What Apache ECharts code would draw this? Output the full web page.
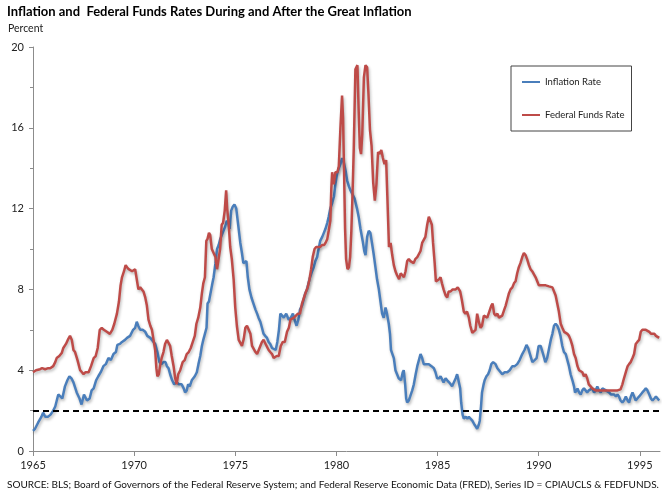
<!DOCTYPE html>
<html><head><meta charset="utf-8">
<script src="https://cdn.jsdelivr.net/npm/echarts@6/dist/echarts.min.js"></script>
<style>html,body{margin:0;padding:0;background:#fff}#c{width:672px;height:497px}</style>
</head><body><div id="c"></div>
<script>
const titleText = 'Inflation and  Federal Funds Rates During and After the Great Inflation';
const unitText = 'Percent';
const sourceText = 'SOURCE: BLS; Board of Governors of the Federal Reserve System; and Federal Reserve Economic Data (FRED), Series ID = CPIAUCLS & FEDFUNDS.';
const xTicks = [1965, 1970, 1975, 1980, 1985, 1990, 1995];
const targetLevel = 2;

// [year, percent]
const inflationRate = [
[1965.00,1.0],[1965.10,1.1],[1965.25,1.4],[1965.42,1.7],[1965.50,1.9],[1965.60,1.7],[1965.75,1.7],[1965.87,1.8],
[1966.00,2.0],[1966.10,2.2],[1966.25,2.8],[1966.35,2.7],[1966.45,2.6],[1966.58,3.2],[1966.70,3.5],[1966.80,3.7],[1966.90,3.6],
[1967.00,3.4],[1967.16,2.9],[1967.30,2.6],[1967.40,2.3],[1967.52,2.8],[1967.67,2.5],[1967.80,2.6],[1967.90,3.0],
[1968.00,3.1],[1968.12,3.5],[1968.23,3.7],[1968.35,3.9],[1968.48,4.2],[1968.60,4.3],[1968.73,4.6],[1968.85,4.5],[1968.98,4.8],
[1969.10,4.9],[1969.17,5.25],[1969.30,5.3],[1969.40,5.4],[1969.55,5.5],[1969.65,5.6],[1969.80,5.7],[1969.95,6.0],
[1970.05,6.1],[1970.13,6.4],[1970.20,6.2],[1970.30,6.0],[1970.42,6.0],[1970.55,5.9],[1970.65,5.7],[1970.71,5.7],[1970.80,5.6],[1970.88,5.6],
[1971.04,5.3],[1971.15,4.9],[1971.25,4.4],[1971.35,4.3],[1971.45,4.4],[1971.55,4.4],[1971.62,4.2],[1971.70,4.1],[1971.78,3.8],[1971.88,3.5],[1971.98,3.3],
[1972.10,3.4],[1972.22,3.3],[1972.35,3.3],[1972.45,3.1],[1972.52,2.9],[1972.60,3.0],[1972.67,3.3],[1972.75,3.2],[1972.85,3.5],
[1973.00,3.7],[1973.10,3.9],[1973.18,4.3],[1973.27,4.7],[1973.35,5.2],[1973.42,5.5],[1973.50,5.8],[1973.58,6.1],[1973.63,7.3],[1973.70,7.4],[1973.76,7.4],[1973.85,8.2],[1973.93,8.6],
[1974.02,9.3],[1974.10,10.0],[1974.18,10.2],[1974.26,10.5],[1974.34,10.7],[1974.42,10.9],[1974.50,11.1],[1974.58,11.4],[1974.65,11.3],[1974.72,11.0],[1974.80,11.9],[1974.88,12.1],[1974.96,12.2],
[1975.05,12.0],[1975.12,11.4],[1975.25,10.3],[1975.33,9.8],[1975.40,9.3],[1975.48,9.3],[1975.55,9.4],[1975.62,8.6],[1975.70,8.0],[1975.80,7.6],[1975.90,7.3],
[1976.00,7.0],[1976.08,6.8],[1976.15,6.6],[1976.24,6.4],[1976.32,6.1],[1976.40,5.8],[1976.48,5.7],[1976.57,5.6],[1976.65,5.4],[1976.73,5.3],[1976.82,5.1],[1976.90,5.1],
[1977.00,5.0],[1977.08,5.4],[1977.16,6.0],[1977.23,6.8],[1977.32,6.7],[1977.40,6.6],[1977.52,6.8],[1977.64,6.5],[1977.75,6.6],[1977.85,6.8],[1977.93,6.5],
[1978.03,6.2],[1978.12,6.5],[1978.20,7.0],[1978.30,7.2],[1978.38,7.5],[1978.46,7.8],[1978.55,8.0],[1978.62,8.3],[1978.70,8.6],[1978.80,8.9],[1978.88,9.1],[1978.96,9.4],
[1979.05,9.6],[1979.12,10.0],[1979.20,10.4],[1979.30,10.6],[1979.38,10.8],[1979.46,11.0],[1979.55,11.3],[1979.62,11.6],[1979.70,12.0],[1979.80,12.3],[1979.88,12.6],[1979.95,13.2],
[1980.03,13.7],[1980.12,14.0],[1980.20,14.2],[1980.28,14.5],[1980.36,14.3],[1980.45,13.9],[1980.53,13.4],[1980.62,13.1],[1980.70,12.9],[1980.80,12.7],[1980.90,12.5],
[1981.02,12.0],[1981.10,11.6],[1981.19,11.0],[1981.30,10.4],[1981.38,9.9],[1981.44,9.7],[1981.52,10.6],[1981.60,10.9],[1981.68,10.8],[1981.76,10.3],[1981.85,9.7],[1981.93,9.1],
[1982.01,8.5],[1982.10,8.0],[1982.18,7.4],[1982.26,6.8],[1982.34,6.6],[1982.43,7.1],[1982.50,6.8],[1982.59,6.3],[1982.65,5.8],[1982.70,5.0],[1982.77,4.8],[1982.84,4.6],[1982.92,4.0],
[1983.00,3.8],[1983.08,3.6],[1983.20,3.5],[1983.28,3.9],[1983.33,4.0],[1983.40,3.3],[1983.45,2.6],[1983.50,2.4],[1983.58,2.5],[1983.65,2.7],[1983.75,3.0],[1983.83,3.3],[1983.92,3.8],
[1984.00,4.2],[1984.08,4.5],[1984.16,4.8],[1984.24,4.6],[1984.32,4.3],[1984.45,4.3],[1984.57,4.3],[1984.70,4.2],[1984.82,4.1],[1984.90,3.9],[1984.98,3.6],
[1985.08,3.6],[1985.15,3.7],[1985.30,3.4],[1985.40,3.6],[1985.48,3.5],[1985.57,3.4],[1985.65,3.3],[1985.72,3.2],[1985.80,3.2],[1985.90,3.6],[1985.97,3.8],
[1986.05,3.8],[1986.12,3.1],[1986.17,2.4],[1986.24,1.8],[1986.30,1.6],[1986.40,1.7],[1986.48,1.6],[1986.55,1.7],[1986.63,1.6],[1986.72,1.5],[1986.83,1.3],[1986.90,1.2],[1986.96,1.1],
[1987.04,1.3],[1987.09,1.5],[1987.15,2.2],[1987.20,2.9],[1987.28,3.3],[1987.33,3.5],[1987.42,3.7],[1987.50,3.8],[1987.58,4.0],[1987.66,4.3],[1987.75,4.4],[1987.87,4.3],[1987.96,4.1],
[1988.04,4.0],[1988.12,3.9],[1988.20,3.8],[1988.32,3.9],[1988.45,3.9],[1988.57,4.0],[1988.70,4.2],[1988.82,4.2],[1988.94,4.3],
[1989.06,4.5],[1989.19,4.8],[1989.30,5.0],[1989.40,5.25],[1989.48,5.1],[1989.57,4.8],[1989.69,4.4],[1989.80,4.5],[1989.90,4.6],
[1990.00,5.2],[1990.10,5.2],[1990.17,5.2],[1990.25,4.7],[1990.33,4.4],[1990.42,4.6],[1990.50,5.0],[1990.60,5.5],[1990.68,5.8],[1990.76,6.2],[1990.84,6.3],[1990.92,6.2],
[1991.00,6.0],[1991.08,5.7],[1991.17,5.2],[1991.25,4.9],[1991.34,4.8],[1991.42,4.5],[1991.50,4.2],[1991.58,3.8],[1991.67,3.5],[1991.75,3.2],[1991.80,2.9],[1991.88,3.0],[1991.92,3.1],
[1992.00,2.9],[1992.08,2.8],[1992.16,3.0],[1992.24,3.1],[1992.32,3.0],[1992.40,2.9],[1992.48,3.0],[1992.57,3.0],[1992.65,3.1],[1992.74,2.9],[1992.82,3.0],[1992.90,3.2],[1992.98,3.0],
[1993.07,2.9],[1993.15,3.1],[1993.24,3.1],[1993.32,3.0],[1993.40,3.0],[1993.48,2.9],[1993.57,2.8],[1993.65,2.8],[1993.72,2.8],[1993.82,2.7],[1993.90,2.8],[1993.97,2.7],
[1994.05,2.5],[1994.14,2.4],[1994.22,2.5],[1994.31,2.7],[1994.40,2.5],[1994.47,2.4],[1994.56,2.7],[1994.64,2.9],[1994.72,2.7],[1994.80,2.5],[1994.88,2.6],[1994.97,2.7],
[1995.05,2.8],[1995.13,2.9],[1995.22,3.0],[1995.30,3.1],[1995.38,3.0],[1995.47,2.8],[1995.55,2.6],[1995.63,2.5],[1995.72,2.6],[1995.80,2.7],[1995.88,2.6],[1995.96,2.5]
];

const fedFundsRate = [
[1965.00,3.9],[1965.15,4.0],[1965.35,4.05],[1965.45,4.1],[1965.60,4.05],[1965.75,4.1],[1965.85,4.1],
[1966.00,4.2],[1966.10,4.4],[1966.17,4.6],[1966.30,4.7],[1966.42,4.85],[1966.50,5.1],[1966.63,5.3],[1966.72,5.5],[1966.83,5.7],[1966.92,5.5],
[1967.00,5.0],[1967.08,4.9],[1967.20,4.5],[1967.33,4.0],[1967.42,3.9],[1967.50,3.8],[1967.60,3.9],[1967.75,3.9],[1967.87,4.2],
[1968.00,4.6],[1968.10,4.7],[1968.20,5.1],[1968.30,6.0],[1968.40,6.1],[1968.50,6.0],[1968.65,5.9],[1968.80,5.8],[1968.92,6.0],
[1969.02,6.3],[1969.15,6.8],[1969.25,7.4],[1969.33,8.2],[1969.40,8.6],[1969.50,8.9],[1969.58,9.2],[1969.65,9.1],[1969.73,9.0],[1969.80,9.0],[1969.90,8.9],[1969.97,8.9],
[1970.05,9.0],[1970.13,9.0],[1970.21,8.0],[1970.30,8.1],[1970.38,8.1],[1970.46,7.9],[1970.55,7.6],[1970.63,7.2],[1970.71,6.5],[1970.80,6.2],[1970.88,6.0],[1970.96,5.5],
[1971.04,5.0],[1971.10,4.1],[1971.15,3.7],[1971.22,3.8],[1971.28,4.2],[1971.36,4.6],[1971.45,4.9],[1971.53,5.3],[1971.62,5.5],[1971.70,5.55],[1971.78,5.2],[1971.86,4.7],[1971.95,4.2],
[1972.03,3.6],[1972.10,3.3],[1972.18,3.8],[1972.28,4.0],[1972.40,4.4],[1972.50,4.5],[1972.60,4.8],[1972.70,4.9],[1972.80,5.1],[1972.90,5.4],
[1973.00,5.7],[1973.08,6.3],[1973.17,6.6],[1973.27,7.1],[1973.35,7.8],[1973.42,8.3],[1973.50,8.6],[1973.57,10.4],[1973.63,10.5],[1973.70,10.8],[1973.76,10.7],[1973.84,10.0],[1973.93,10.0],
[1974.02,9.6],[1974.10,9.0],[1974.17,9.0],[1974.25,10.0],[1974.33,11.2],[1974.40,11.3],[1974.48,11.9],[1974.55,12.9],[1974.60,12.0],[1974.67,11.3],[1974.75,10.1],[1974.83,9.5],[1974.92,8.5],
[1975.00,7.1],[1975.08,6.2],[1975.17,5.5],[1975.25,5.5],[1975.33,5.2],[1975.42,5.55],[1975.50,6.1],[1975.58,6.2],[1975.66,6.2],[1975.75,5.8],[1975.83,5.2],[1975.92,5.2],
[1976.00,4.9],[1976.08,4.8],[1976.15,4.8],[1976.24,5.2],[1976.32,5.4],[1976.40,5.5],[1976.50,5.3],[1976.58,5.3],[1976.65,5.0],[1976.73,4.9],[1976.82,4.8],[1976.90,4.6],[1976.98,4.6],
[1977.05,4.7],[1977.15,4.7],[1977.25,5.2],[1977.35,5.4],[1977.45,5.4],[1977.56,5.9],[1977.65,6.1],[1977.73,6.5],[1977.80,6.5],[1977.90,6.6],
[1978.00,6.7],[1978.10,6.8],[1978.20,6.8],[1978.30,7.3],[1978.40,7.6],[1978.50,7.9],[1978.58,8.1],[1978.67,8.5],[1978.75,9.0],[1978.83,9.6],[1978.92,10.0],
[1979.00,10.1],[1979.10,10.1],[1979.20,10.1],[1979.30,10.2],[1979.40,10.2],[1979.46,10.3],[1979.55,10.5],[1979.62,10.9],[1979.70,11.4],[1979.75,13.0],[1979.79,13.8],[1979.87,13.2],[1979.95,13.8],
[1980.05,13.8],[1980.12,14.1],[1980.20,16.0],[1980.28,17.6],[1980.33,16.5],[1980.38,13.8],[1980.43,11.0],[1980.48,9.5],[1980.55,9.0],[1980.62,9.1],[1980.68,9.6],[1980.74,10.9],[1980.80,12.8],[1980.86,15.0],[1980.94,18.9],
[1981.04,19.1],[1981.10,16.9],[1981.16,15.0],[1981.22,14.7],[1981.28,15.7],[1981.36,18.5],[1981.44,19.1],[1981.52,19.0],[1981.58,17.8],[1981.66,15.9],[1981.74,15.1],[1981.82,13.3],[1981.90,12.4],[1981.98,13.2],
[1982.06,14.8],[1982.14,14.7],[1982.22,14.9],[1982.30,14.5],[1982.38,14.2],[1982.46,14.4],[1982.52,12.6],[1982.60,10.1],[1982.68,10.3],[1982.76,9.7],[1982.84,9.2],[1982.92,8.9],
[1983.00,8.7],[1983.10,8.5],[1983.18,8.8],[1983.26,8.8],[1983.34,8.6],[1983.42,8.9],[1983.50,9.4],[1983.58,9.5],[1983.66,9.4],[1983.74,9.4],[1983.82,9.3],[1983.90,9.5],
[1984.00,9.6],[1984.08,9.6],[1984.16,9.9],[1984.24,10.3],[1984.32,10.3],[1984.40,10.6],[1984.49,11.2],[1984.57,11.6],[1984.65,11.6],[1984.72,11.2],[1984.78,10.3],[1984.86,9.3],[1984.92,8.4],
[1985.00,8.35],[1985.08,8.5],[1985.15,8.6],[1985.22,8.3],[1985.30,8.0],[1985.40,7.7],[1985.48,7.6],[1985.55,7.9],[1985.65,7.9],[1985.75,8.0],[1985.90,8.0],
[1986.00,8.1],[1986.05,8.1],[1986.12,7.9],[1986.20,7.5],[1986.30,6.9],[1986.38,6.8],[1986.46,6.9],[1986.55,6.6],[1986.62,6.2],[1986.72,5.85],[1986.80,5.85],[1986.88,6.0],[1986.96,6.8],
[1987.04,6.4],[1987.13,6.1],[1987.20,6.2],[1987.29,6.7],[1987.38,6.75],[1987.46,6.6],[1987.55,6.6],[1987.66,7.2],[1987.72,7.3],[1987.80,6.8],[1987.88,6.7],[1987.96,6.8],
[1988.04,6.6],[1988.12,6.6],[1988.20,6.7],[1988.30,7.0],[1988.37,7.2],[1988.45,7.5],[1988.53,7.8],[1988.61,8.0],[1988.70,8.1],[1988.78,8.3],[1988.86,8.4],[1988.94,8.8],
[1989.02,9.1],[1989.10,9.3],[1989.19,9.6],[1989.27,9.8],[1989.35,9.7],[1989.43,9.5],[1989.52,9.2],[1989.60,9.0],[1989.68,8.9],[1989.77,8.9],[1989.85,8.6],[1989.93,8.4],
[1990.01,8.2],[1990.10,8.2],[1990.18,8.2],[1990.26,8.2],[1990.35,8.2],[1990.43,8.2],[1990.51,8.15],[1990.60,8.15],[1990.68,8.1],[1990.76,8.1],[1990.84,7.7],[1990.92,7.3],
[1991.00,6.9],[1991.09,6.3],[1991.17,6.1],[1991.26,5.9],[1991.34,5.9],[1991.42,5.8],[1991.50,5.7],[1991.58,5.5],[1991.67,5.2],[1991.75,4.8],[1991.83,4.6],[1991.92,4.2],
[1992.00,4.0],[1992.08,4.0],[1992.16,3.9],[1992.24,3.7],[1992.32,3.8],[1992.40,3.6],[1992.48,3.3],[1992.57,3.2],[1992.65,3.1],[1992.74,3.1],[1992.82,3.0],[1992.90,3.0],[1992.98,3.0],
[1993.10,3.0],[1993.20,3.0],[1993.30,3.0],[1993.42,3.0],[1993.55,3.0],[1993.67,3.0],[1993.80,3.0],[1993.90,3.0],[1993.97,3.0],
[1994.05,3.05],[1994.14,3.3],[1994.22,3.6],[1994.31,3.9],[1994.40,4.2],[1994.47,4.3],[1994.55,4.4],[1994.64,4.6],[1994.72,4.8],[1994.80,5.3],[1994.88,5.4],[1994.97,5.5],
[1995.05,5.9],[1995.13,6.0],[1995.22,6.05],[1995.30,6.0],[1995.38,6.0],[1995.47,5.9],[1995.55,5.8],[1995.63,5.8],[1995.72,5.8],[1995.80,5.7],[1995.88,5.7],[1995.96,5.6]
];

const FONT = 'Lato, "Liberation Sans", sans-serif';
const chart = echarts.init(document.getElementById('c'), null, {renderer: 'canvas'});
const lineShadow = {shadowColor: 'rgba(0,0,0,0.28)', shadowBlur: 3, shadowOffsetX: 1, shadowOffsetY: 2};
chart.setOption({
  animation: false,
  backgroundColor: '#fff',
  title: [
    {text: titleText, left: 7, top: 5, padding: 0,
     textStyle: {fontFamily: FONT, fontSize: 13, fontWeight: 'bold', color: '#000'}},
    {text: unitText, left: 8, top: 23, padding: 0,
     textStyle: {fontFamily: FONT, fontSize: 10.5, fontWeight: 'normal', color: '#222'}},
    {text: sourceText, left: 7, top: 480, padding: 0,
     textStyle: {fontFamily: FONT, fontSize: 10, fontWeight: 'normal', color: '#111'}}
  ],
  legend: {
    orient: 'vertical', left: 511, top: 66,
    padding: [11, 7, 11, 11], itemGap: 23,
    borderColor: '#444', borderWidth: 1,
    icon: 'rect', itemWidth: 18, itemHeight: 2,
    textStyle: {fontFamily: FONT, fontSize: 9.5, color: '#222'},
    data: ['Inflation Rate', 'Federal Funds Rate']
  },
  grid: {left: 33, right: 12, top: 47, bottom: 46, containLabel: false},
  xAxis: {
    type: 'value', min: 1965, max: 1996, interval: 5,
    axisLine: {show: true, lineStyle: {color: '#8c8c8c', width: 1}},
    axisTick: {show: true, length: 5, customValues: xTicks, lineStyle: {color: '#8c8c8c'}},
    axisLabel: {customValues: xTicks, margin: 9, fontFamily: FONT, fontSize: 11, color: '#222',
      formatter: v => (xTicks.indexOf(v) >= 0 ? String(v) : '')},
    splitLine: {show: false}
  },
  yAxis: {
    type: 'value', min: 0, max: 20, interval: 4,
    axisLine: {show: true, lineStyle: {color: '#8c8c8c', width: 1}},
    axisTick: {show: true, length: 4, lineStyle: {color: '#8c8c8c'}},
    minorTick: {show: true, splitNumber: 2, length: 3, lineStyle: {color: '#8c8c8c'}},
    axisLabel: {margin: 9, fontFamily: FONT, fontSize: 11, color: '#222'},
    splitLine: {show: false}
  },
  series: [
    {name: 'Inflation Rate', type: 'line', data: inflationRate, showSymbol: false, symbol: 'none',
     color: '#4A7EBB', lineStyle: Object.assign({color: '#4A7EBB', width: 2.5}, lineShadow),
     markLine: {silent: true, symbol: 'none', label: {show: false},
       lineStyle: {color: '#000', type: [6, 4], width: 2}, data: [{yAxis: targetLevel}]}},
    {name: 'Federal Funds Rate', type: 'line', data: fedFundsRate, showSymbol: false, symbol: 'none',
     color: '#BE4B48', lineStyle: Object.assign({color: '#BE4B48', width: 2.5}, lineShadow)}
  ]
});
</script></body></html>
